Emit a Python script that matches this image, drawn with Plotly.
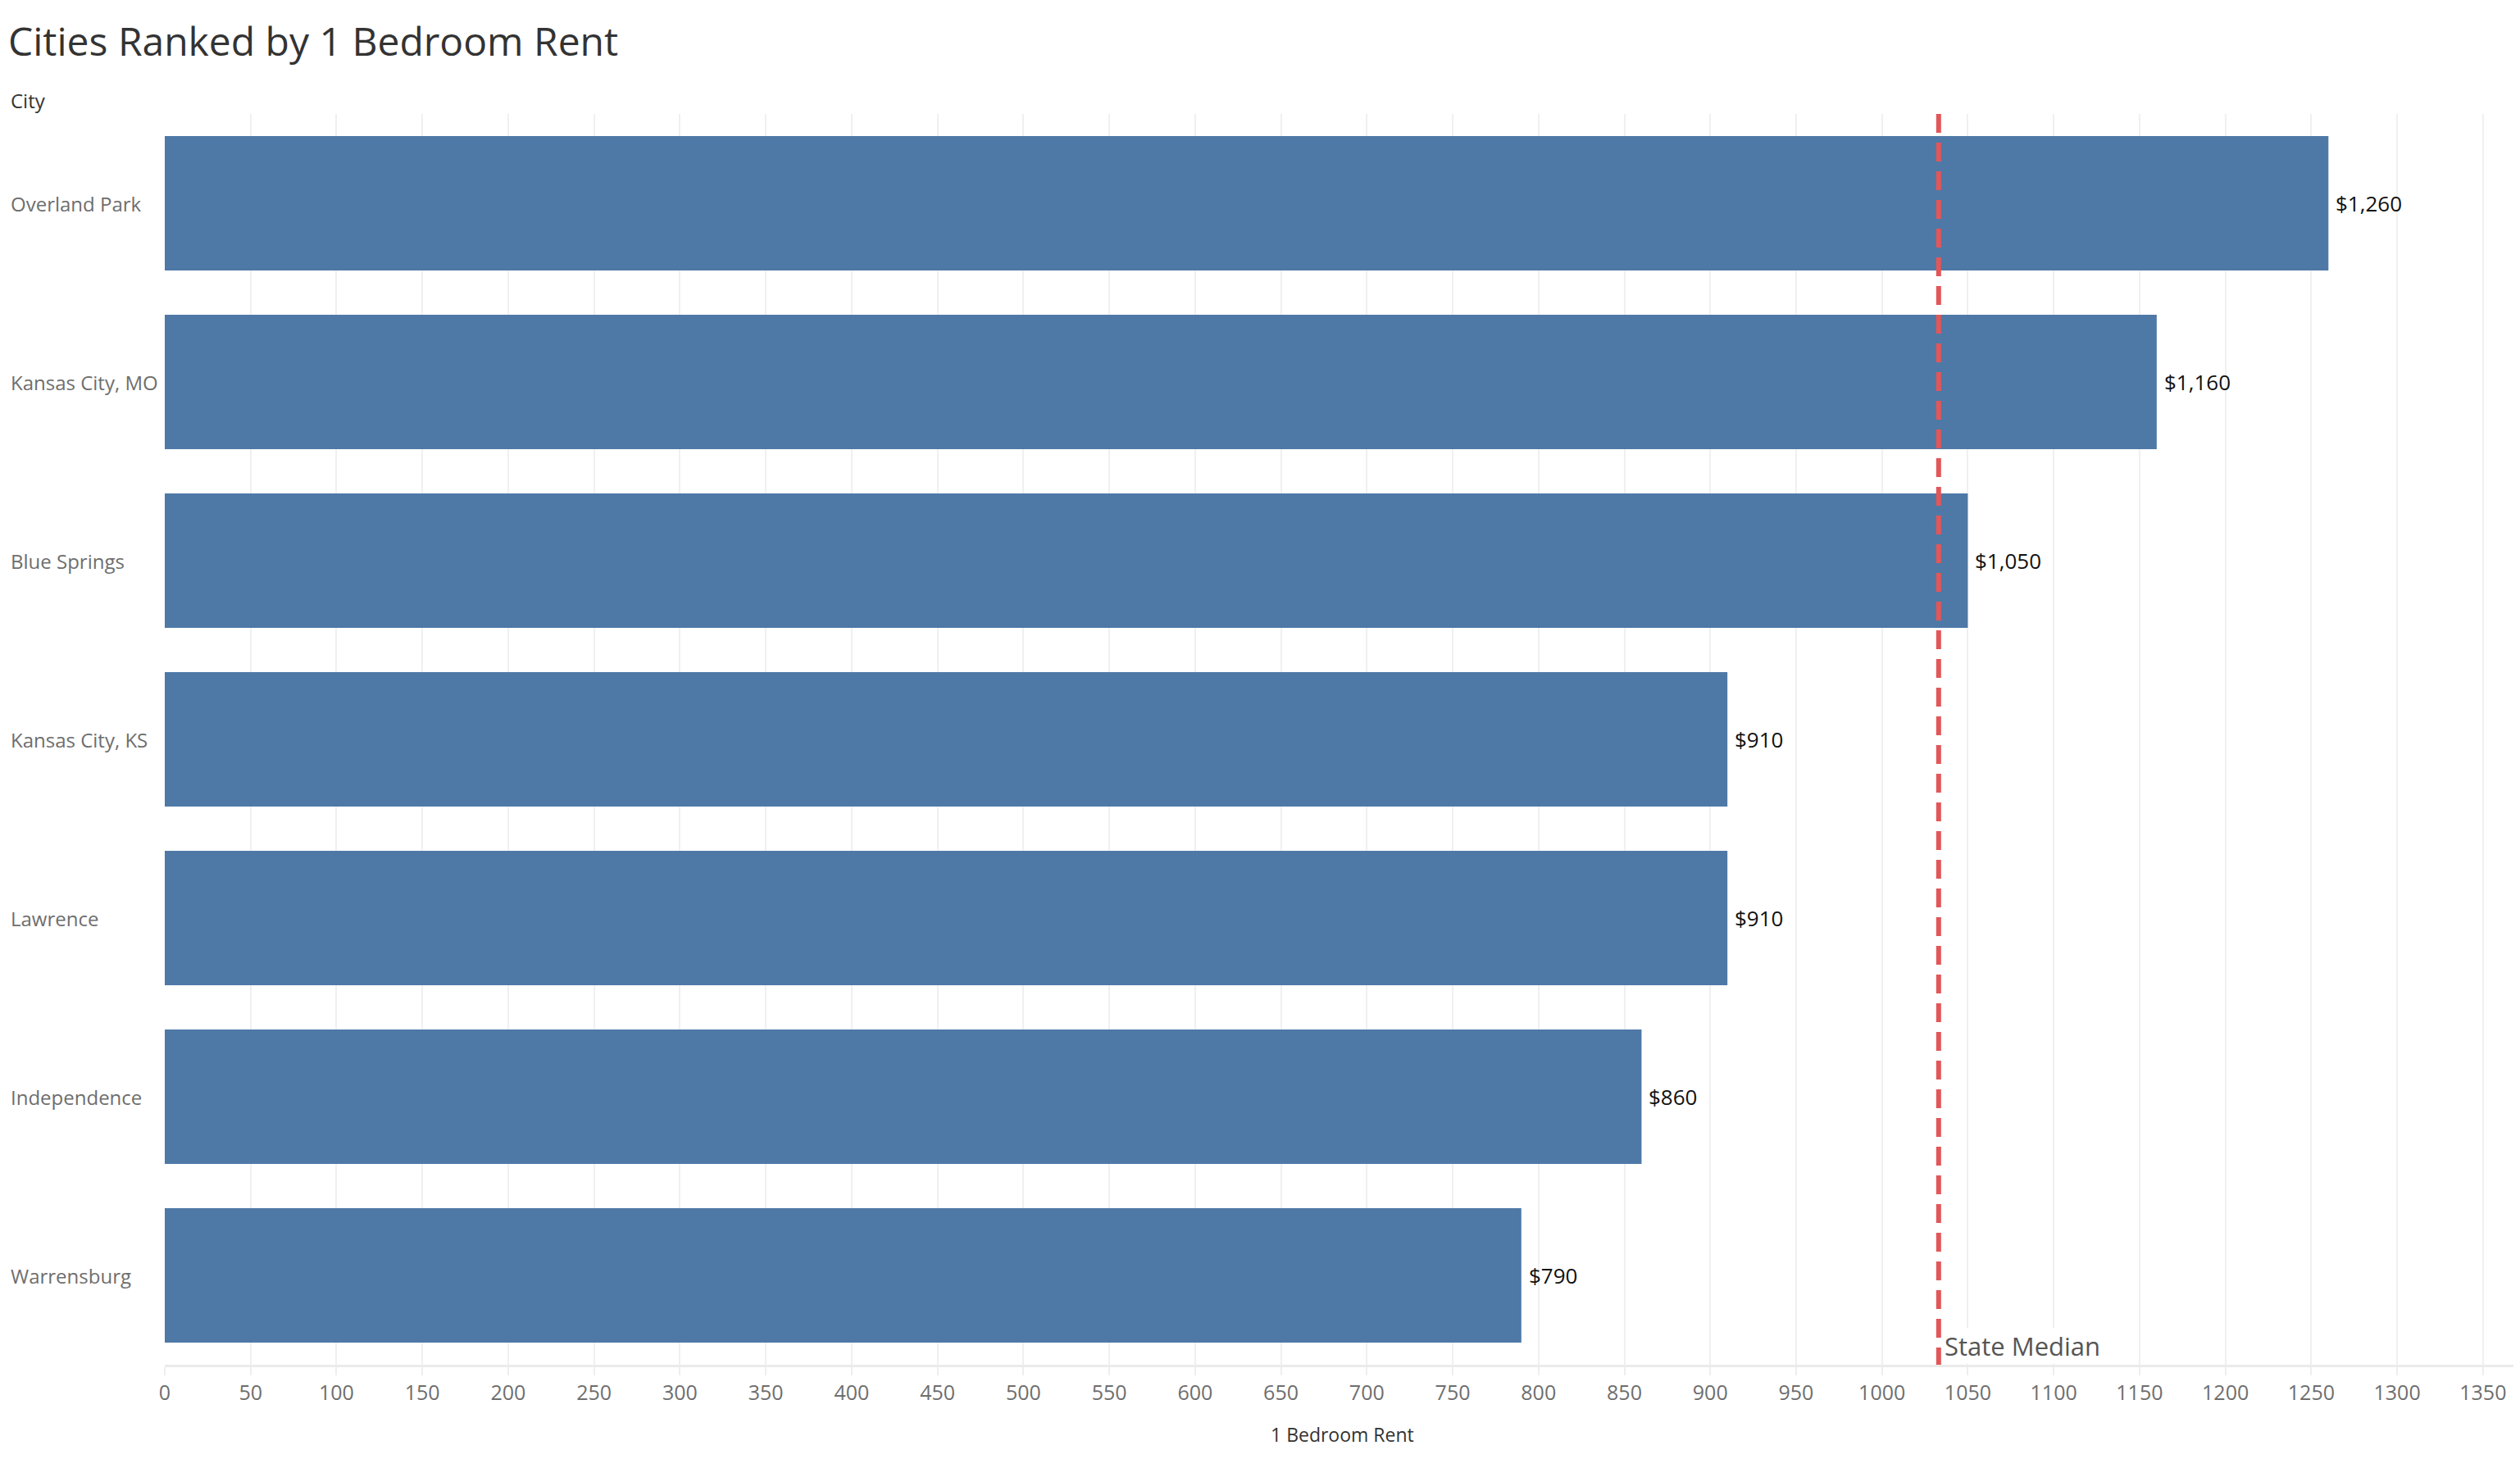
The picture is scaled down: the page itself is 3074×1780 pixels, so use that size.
import plotly.graph_objects as go

cities = ["Overland Park", "Kansas City, MO", "Blue Springs", "Kansas City, KS",
          "Lawrence", "Independence", "Warrensburg"]
rent = [1260, 1160, 1050, 910, 910, 860, 790]
state_median = 1033
x_ticks = list(range(0, 1351, 50))

# the page body has an 8px margin, so the figure is drawn 8px in from the corner
OFF = 8
W, H = 3074 - OFF, 1780 - OFF
L, R, T, B = 201 - OFF, 3074 - OFF, 139 - OFF, 1665 - OFF   # plot box

FONT = "Open Sans"
BLUE = "#4e79a7"
RED = "#e15759"


def px_x(p):
    return (p - OFF - L) / (R - L)


def px_y(p):
    return (B - (p - OFF)) / (B - T)


fig = go.Figure()
fig.add_trace(go.Bar(x=rent, y=cities, orientation="h",
                     marker=dict(color=BLUE, line=dict(width=0)),
                     hoverinfo="x+y"))

ann = []
# title and header
ann.append(dict(text="Cities Ranked by 1 Bedroom Rent", xref="paper", yref="paper",
                x=px_x(8), y=px_y(49), xanchor="left", yanchor="middle", showarrow=False,
                font=dict(family=FONT, size=48, color="#333333")))
ann.append(dict(text="City", xref="paper", yref="paper",
                x=px_x(11), y=px_y(122), xanchor="left", yanchor="middle", showarrow=False,
                font=dict(family=FONT, size=24, color="#333333")))
ann.append(dict(text="1 Bedroom Rent", xref="paper", yref="paper",
                x=0.5, y=px_y(1750), xanchor="center", yanchor="middle", showarrow=False,
                font=dict(family=FONT, size=23, color="#333333")))

# city labels, left aligned
for c in cities:
    ann.append(dict(text=c, xref="paper", yref="y", x=px_x(11), y=c,
                    xanchor="left", yanchor="middle", showarrow=False,
                    font=dict(family=FONT, size=24, color="#6e6e6e")))

# value labels
for c, v in zip(cities, rent):
    ann.append(dict(text="${:,}".format(v), xref="x", yref="y", x=v, y=c,
                    xanchor="left", yanchor="middle", xshift=7, showarrow=False,
                    font=dict(family=FONT, size=26, color="#111111")))

# state median label
ann.append(dict(text="State Median", xref="x", yref="paper", x=state_median, y=0,
                xanchor="left", yanchor="bottom", xshift=6, yshift=1, showarrow=False,
                bgcolor="white", borderpad=0,
                font=dict(family=FONT, size=31, color="#555555")))

fig.add_shape(type="line", xref="x", yref="paper", x0=state_median, x1=state_median,
              y0=1, y1=0, line=dict(color=RED, width=6, dash="23px,12px"), layer="above")

fig.update_layout(
    width=W, height=H,
    margin=dict(l=L, r=W - R, t=T, b=H - B, pad=0),
    paper_bgcolor="white", plot_bgcolor="white",
    showlegend=False, bargap=0.248,
    font=dict(family=FONT, color="#666666"),
    annotations=ann,
    xaxis=dict(range=[0, (R - L) / 2.0947], tickvals=x_ticks, ticktext=[str(t) for t in x_ticks],
               showgrid=True, gridcolor="#f0f0f0", gridwidth=2, zeroline=False,
               showline=True, linecolor="#ebebeb", linewidth=3,
               ticks="outside", ticklen=10, tickwidth=2, tickcolor="#eeeeee",
               tickfont=dict(family=FONT, size=25, color="#6e6e6e")),
    yaxis=dict(categoryorder="array", categoryarray=cities, autorange="reversed",
               showticklabels=False, showgrid=False, zeroline=False, showline=False),
)

fig.write_html("out.html")
